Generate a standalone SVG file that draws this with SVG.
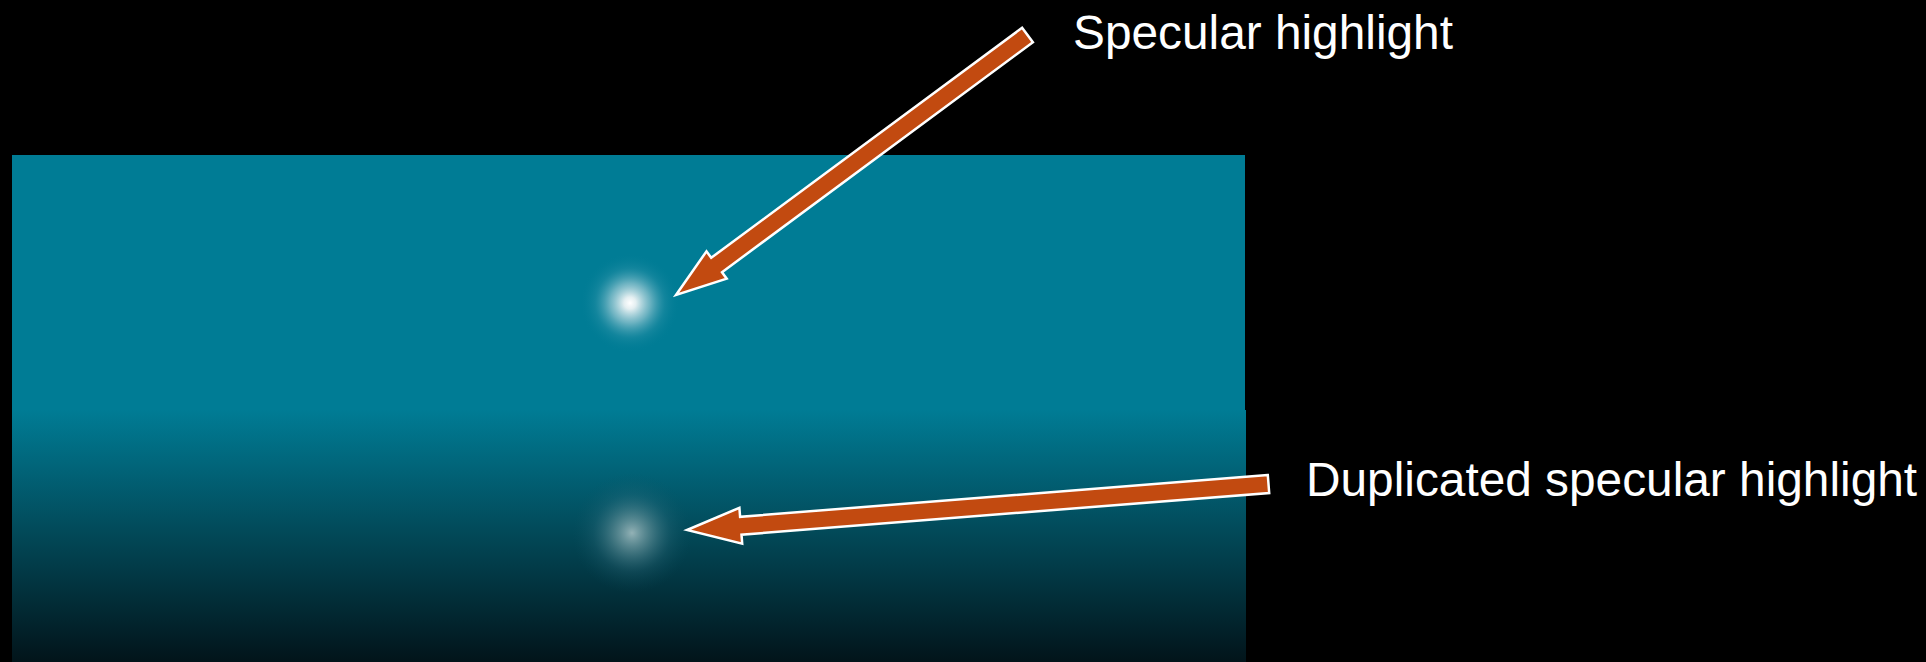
<svg xmlns="http://www.w3.org/2000/svg" width="1926" height="662" viewBox="0 0 1926 662">
  <defs>
    <linearGradient id="fade" x1="0" y1="0" x2="0" y2="1">
      <stop offset="0" stop-color="#007C95"/>
      <stop offset="0.45" stop-color="#024D5D"/>
      <stop offset="1" stop-color="#02141A"/>
    </linearGradient>
    <radialGradient id="glow1">
      <stop offset="0" stop-color="#FFFFFF" stop-opacity="1"/>
      <stop offset="0.12" stop-color="#F0F5F6" stop-opacity="0.95"/>
      <stop offset="0.4" stop-color="#B5D7DF" stop-opacity="0.6"/>
      <stop offset="0.7" stop-color="#5AAABD" stop-opacity="0.2"/>
      <stop offset="1" stop-color="#007C95" stop-opacity="0"/>
    </radialGradient>
    <radialGradient id="glow2">
      <stop offset="0" stop-color="#93B2B6" stop-opacity="1"/>
      <stop offset="0.3" stop-color="#6A959D" stop-opacity="0.65"/>
      <stop offset="0.65" stop-color="#337080" stop-opacity="0.25"/>
      <stop offset="1" stop-color="#0B5160" stop-opacity="0"/>
    </radialGradient>
  </defs>
  <style>
    .arrow { fill: #C24A10; stroke: #FFFFFF; stroke-width: 2.5; stroke-linejoin: miter; }
    .label { font-family: "Liberation Sans", Arial, sans-serif; font-size: 47.8px; fill: #FFFFFF; }
  </style>
  <rect x="0" y="0" width="1926" height="662" fill="#000000"/>
  <g id="surface">
    <rect x="12" y="155" width="1233" height="258" fill="#007C95"/>
    <rect x="12" y="410" width="1234" height="252" fill="url(#fade)"/>
  </g>
  <g id="highlight">
    <circle cx="630" cy="303" r="50" fill="url(#glow1)"/>
  </g>
  <g id="duplicated-highlight">
    <circle cx="632" cy="533" r="60" fill="url(#glow2)"/>
  </g>
  <g id="connectors">
    <polygon class="arrow" points="1022.1,27.8 711.2,257.8 706.5,251.3 676,295 726.7,278.7 722,272.2 1032.9,42.2"/>
    <polygon class="arrow" points="1267.8,475 740.1,516.8 739.4,507.8 687,530 742.2,543.6 741.5,534.7 1269.2,493"/>
  </g>
  <g id="label-specular">
    <text class="label" x="1073" y="49">Specular highlight</text>
  </g>
  <g id="label-duplicated">
    <text class="label" x="1306" y="496">Duplicated specular highlight</text>
  </g>
</svg>
